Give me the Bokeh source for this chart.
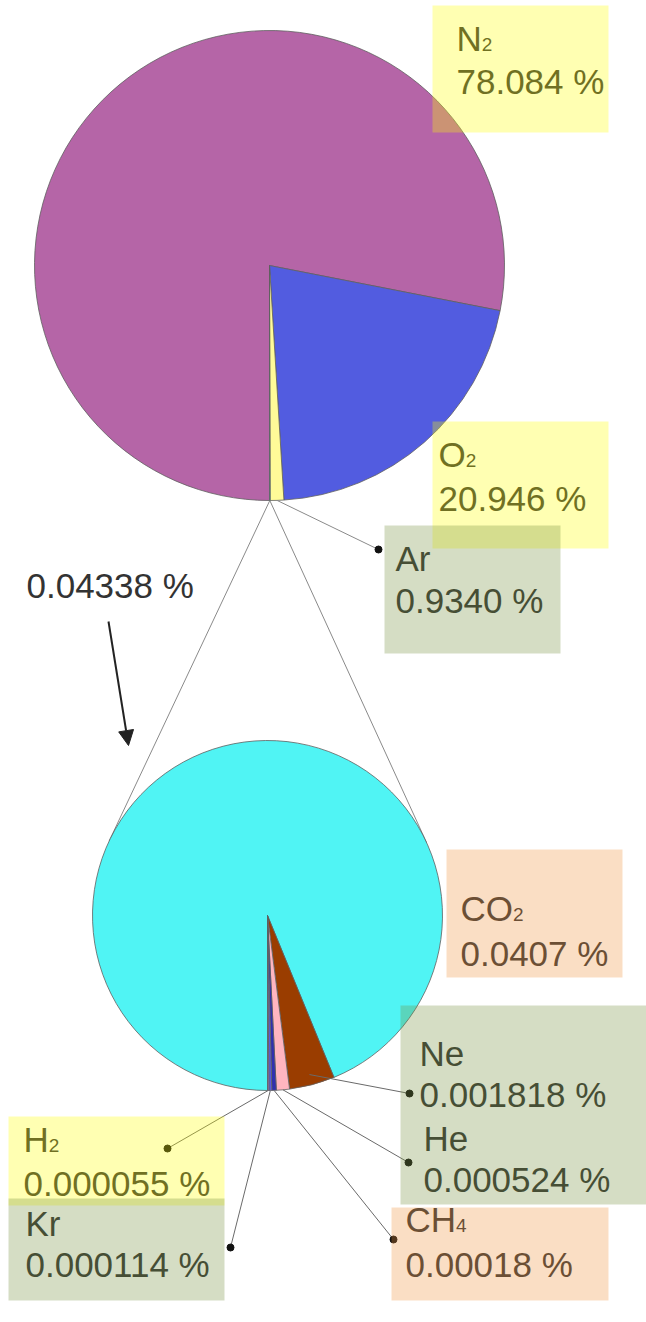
import math
from bokeh.plotting import figure
from bokeh.models import Range1d, Arrow, NormalHead
from bokeh.core.properties import value
from bokeh.embed import file_html
from bokeh.resources import INLINE

# ---------------- data ----------------
top_names = ["N", "O", "Ar", ""]
top_subs = ["2", "2", "", ""]
top_values = [78.084, 20.946, 0.9340, 0.04338]
top_value_labels = ["78.084 %", "20.946 %", "0.9340 %", ""]
top_colors = ["#b565a7", "#525ce0", "#fffa98", "#50f4f4"]

small_names = ["CO", "Ne", "He", "CH", "Kr", "H"]
small_subs = ["2", "", "", "4", "", "2"]
small_values = [0.0407, 0.001818, 0.000524, 0.00018, 0.000114, 0.000055]
small_value_labels = ["0.0407 %", "0.001818 %", "0.000524 %", "0.00018 %", "0.000114 %", "0.000055 %"]
small_colors = ["#50f4f4", "#9a3d00", "#ffb5c0", "#3030b0", "#5a5ae0", "#a070c8"]

rest_label = "0.04338 %"

# ---------------- layout (image pixel coords) ----------------
W, H = 646, 1322
def X(px):
    return px
def Y(py):
    return H - py

TOP_C, TOP_R = (269, 265), 235
SMALL_C, SMALL_R = (267, 915), 175

FONT = value("Liberation Sans")
FS_PX, SUB_PX = 35, 19
FS, SUB_FS = f"{FS_PX}px", f"{SUB_PX}px"
BASE_SHIFT = 0.4   # empirical compensation of the renderer's baseline placement
CHAR_W = {"N": 0.722, "O": 0.778, "C": 0.722, "H": 0.722}

# label anchor: (left x, name baseline, value baseline)
top_anchor = [(456, 52, 95), (438, 468, 512), (395, 572, 614), None]
small_anchor = [(460, 922, 967), (419, 1067, 1108), (423, 1152, 1193),
                (405, 1233, 1278), (25, 1237, 1278), (23, 1153, 1197)]
# leader dots
top_dots = [None, None, (378, 549), None]
small_dots = [None, (409, 1093), (408, 1162), (393, 1239), (230, 1247), (167, 1148)]
small_leader_rf = [None, 0.94, 1.0, 1.0, 1.0, 1.0]

boxes = [  # left, right, top, bottom, color
    (432, 608, 5, 132, "#ffff00"),
    (432, 608, 421, 548, "#ffff00"),
    (384, 560, 525, 653, "#738e3a"),
    (446, 622, 849, 977, "#ee913a"),
    (400, 646, 1005, 1204, "#738e3a"),
    (391, 608, 1207, 1300, "#ee913a"),
    (8, 224, 1116, 1205, "#ffff00"),
    (8, 224, 1198, 1300, "#738e3a"),
]

# ---------------- helpers ----------------
def pie_angles(vals):
    tot = sum(vals)
    s, e, c = [], [], 0.0
    for v in vals:
        s.append(-math.pi / 2 - 2 * math.pi * c / tot)
        c += v
        e.append(-math.pi / 2 - 2 * math.pi * c / tot)
    return s, e

def arc_point(c, r, ang, rf=1.0):
    return (X(c[0]) + rf * r * math.cos(ang), Y(c[1]) + rf * r * math.sin(ang))

def text_y(baseline_py, size_px):
    return Y(baseline_py) + BASE_SHIFT * size_px

p = figure(width=W, height=H, x_range=Range1d(0, W), y_range=Range1d(0, H),
           output_backend="svg", toolbar_location=None,
           x_axis_type=None, y_axis_type=None, min_border=0,
           outline_line_color=None, background_fill_color="white",
           border_fill_color="white")
p.grid.visible = False

ts, te = pie_angles(top_values)
ss, se = pie_angles(small_values)

# tangent (zoom) lines from the "rest" slice of top pie to the small pie
rest_mid = (ts[3] + te[3]) / 2
P = arc_point(TOP_C, TOP_R, rest_mid)
C = (X(SMALL_C[0]), Y(SMALL_C[1]))
d = math.hypot(C[0] - P[0], C[1] - P[1])
phi = math.atan2(C[1] - P[1], C[0] - P[0])
alpha = math.asin(SMALL_R / d)
L = math.sqrt(d * d - SMALL_R ** 2)
for sgn in (-1, 1):
    a = phi + sgn * alpha
    p.line([P[0], P[0] + L * math.cos(a)], [P[1], P[1] + L * math.sin(a)],
           line_color="#8a8a8a", line_width=1)

# pies
p.wedge(x=X(TOP_C[0]), y=Y(TOP_C[1]), radius=TOP_R, start_angle=ts, end_angle=te,
        direction="clock", fill_color=top_colors, line_color="#606060", line_width=0.8)
p.wedge(x=X(SMALL_C[0]), y=Y(SMALL_C[1]), radius=SMALL_R, start_angle=ss, end_angle=se,
        direction="clock", fill_color=small_colors, line_color="#606060", line_width=0.8)

# leader lines + dots
dx, dy = [], []
for i, dot in enumerate(top_dots):
    if dot is None:
        continue
    m = (ts[i] + te[i]) / 2
    sp = arc_point(TOP_C, TOP_R, m)
    p.line([sp[0], X(dot[0])], [sp[1], Y(dot[1])], line_color="#8a8a8a", line_width=1)
    dx.append(X(dot[0])); dy.append(Y(dot[1]))
for i, dot in enumerate(small_dots):
    if dot is None:
        continue
    m = (ss[i] + se[i]) / 2
    sp = arc_point(SMALL_C, SMALL_R, m, small_leader_rf[i])
    p.line([sp[0], X(dot[0])], [sp[1], Y(dot[1])], line_color="#6a6a6a", line_width=1)
    dx.append(X(dot[0])); dy.append(Y(dot[1]))
p.scatter(dx, dy, size=7, fill_color="#111111", line_color="#111111")

# texts
nx, ny, nt, sx, sy, st, vx, vy, vt = [], [], [], [], [], [], [], [], []
for names, subs, vlabels, anchors in ((top_names, top_subs, top_value_labels, top_anchor),
                                      (small_names, small_subs, small_value_labels, small_anchor)):
    for nm, sb, vl, an in zip(names, subs, vlabels, anchors):
        if an is None:
            continue
        nx.append(X(an[0])); ny.append(text_y(an[1], FS_PX)); nt.append(nm)
        if sb:
            off = sum(CHAR_W.get(ch, 0.6) for ch in nm) * FS_PX
            sx.append(X(an[0]) + off); sy.append(text_y(an[1], SUB_PX)); st.append(sb)
        vx.append(X(an[0])); vy.append(text_y(an[2], FS_PX)); vt.append(vl)

for xs_, ys_, tx_, fs_ in ((nx, ny, nt, FS), (sx, sy, st, SUB_FS), (vx, vy, vt, FS)):
    p.text(x=xs_, y=ys_, text=tx_, text_font=FONT, text_font_size=fs_,
           text_color="#333333", text_baseline="alphabetic", text_align="left")

# translucent boxes over texts
p.quad(left=[X(b[0]) for b in boxes], right=[X(b[1]) for b in boxes],
       top=[Y(b[2]) for b in boxes], bottom=[Y(b[3]) for b in boxes],
       fill_color=[b[4] for b in boxes], fill_alpha=0.3, line_color=None)

# rest label and arrow
p.text(x=[X(26)], y=[text_y(599, FS_PX)], text=[rest_label], text_font=FONT, text_font_size=FS,
       text_color="#333333", text_baseline="alphabetic", text_align="left")
p.add_layout(Arrow(x_start=X(108), y_start=Y(621), x_end=X(128), y_end=Y(745),
                   line_color="#222222", line_width=2,
                   end=NormalHead(size=15, fill_color="#222222", line_color="#222222")))

open("out.html", "w").write(file_html(p, INLINE))
